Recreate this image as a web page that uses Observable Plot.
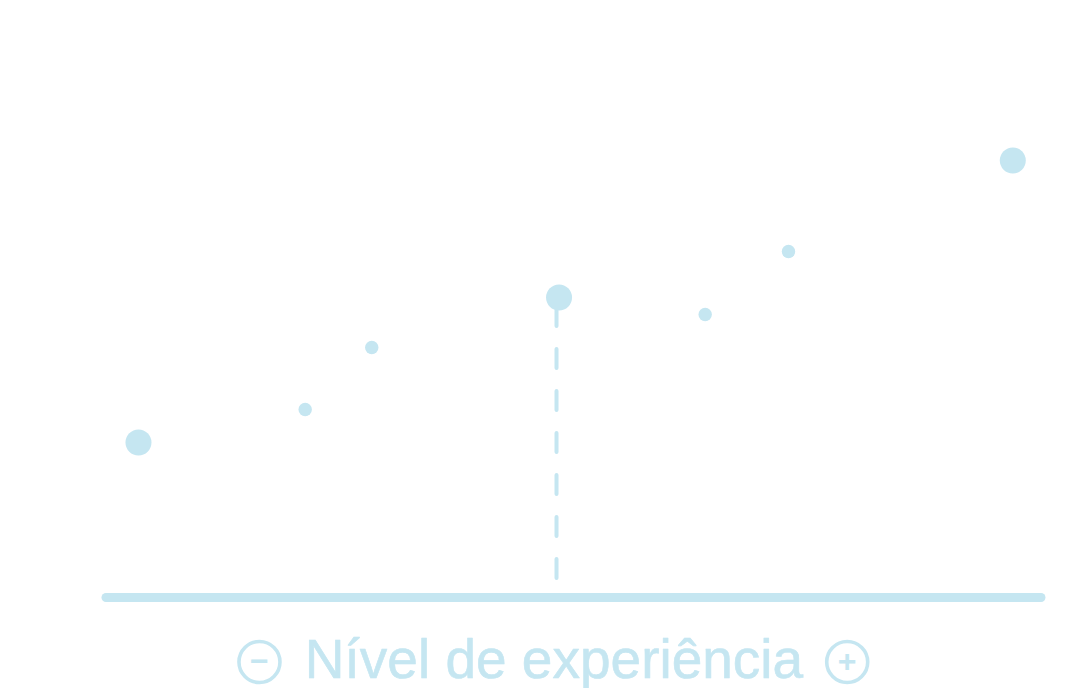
<!DOCTYPE html>
<html>
<head>
<meta charset="utf-8">
<script src="https://cdn.jsdelivr.net/npm/d3@7"></script>
<script src="https://cdn.jsdelivr.net/npm/@observablehq/plot@0.6"></script>
<style>
  html, body { margin: 0; padding: 0; background: #ffffff; }
  #chart svg { display: block; }
</style>
</head>
<body>
<div id="chart"></div>
<script>
// Data
const posicoes = [3.42, 21.25, 28.37, 48.40, 64.03, 72.94, 96.93];
const valores  = [31.0, 37.6, 50.0, 60.0, 56.6, 69.2, 87.4];
const tipos    = ["marco", "ponto", "ponto", "marco", "ponto", "ponto", "marco"];
const destaqueX = [48.13];
const destaqueY = [[3.8, 58.0]];
const rotuloX = "Nível de experiência";
const rotuloPos = [47.86];
const simbolos = ["−", "+"];
const simbolosPos = [16.36, 79.22];
const simbolosY = -12.9;

const cor = "#c5e6f1";

const pontos = posicoes.map((x, i) => ({x, y: valores[i], tipo: tipos[i]}));
const destaque = destaqueX.map((x, i) => ({x, y1: destaqueY[i][0], y2: destaqueY[i][1]}));
const rotulo = [{texto: rotuloX, x: rotuloPos[0], y: 0}];
const sinais = simbolos.map((s, i) => ({s, x: simbolosPos[i], y: simbolosY}));

const chart = Plot.plot({
  width: 1079,
  height: 688,
  marginLeft: 106,
  marginRight: 38,
  marginTop: 97,
  marginBottom: 91,
  x: {domain: [0, 100], axis: null},
  y: {domain: [0, 100], axis: null},
  clip: false,
  style: {background: "#ffffff", overflow: "visible"},
  marks: [
    Plot.ruleY([0], {stroke: cor, strokeWidth: 9, strokeLinecap: "round"}),
    Plot.ruleX(destaque, {x: "x", y1: "y1", y2: "y2", stroke: cor, strokeWidth: 4,
      strokeDasharray: "19,23", strokeLinecap: "round"}),
    Plot.dot(pontos.filter(d => d.tipo === "marco"), {x: "x", y: "y", r: 13, fill: cor}),
    Plot.dot(pontos.filter(d => d.tipo === "ponto"), {x: "x", y: "y", r: 6.7, fill: cor}),
    Plot.text(rotulo, {x: "x", y: "y", text: "texto", dy: 80, lineAnchor: "bottom",
      textAnchor: "middle", fill: cor, fontSize: 55, stroke: cor, strokeWidth: 0.6,
      fontFamily: "'Liberation Sans', Arial, sans-serif"}),
    Plot.dot(sinais, {x: "x", y: "y", r: 20.5, stroke: cor, strokeWidth: 3.6, fill: "none"}),
    Plot.text(sinais, {x: "x", y: "y", text: "s", lineAnchor: "middle", textAnchor: "middle",
      fill: cor, fontSize: 32, fontWeight: "bold", dy: 0,
      fontFamily: "'Liberation Sans', Arial, sans-serif"})
  ]
});
document.getElementById("chart").appendChild(chart);
</script>
</body>
</html>
